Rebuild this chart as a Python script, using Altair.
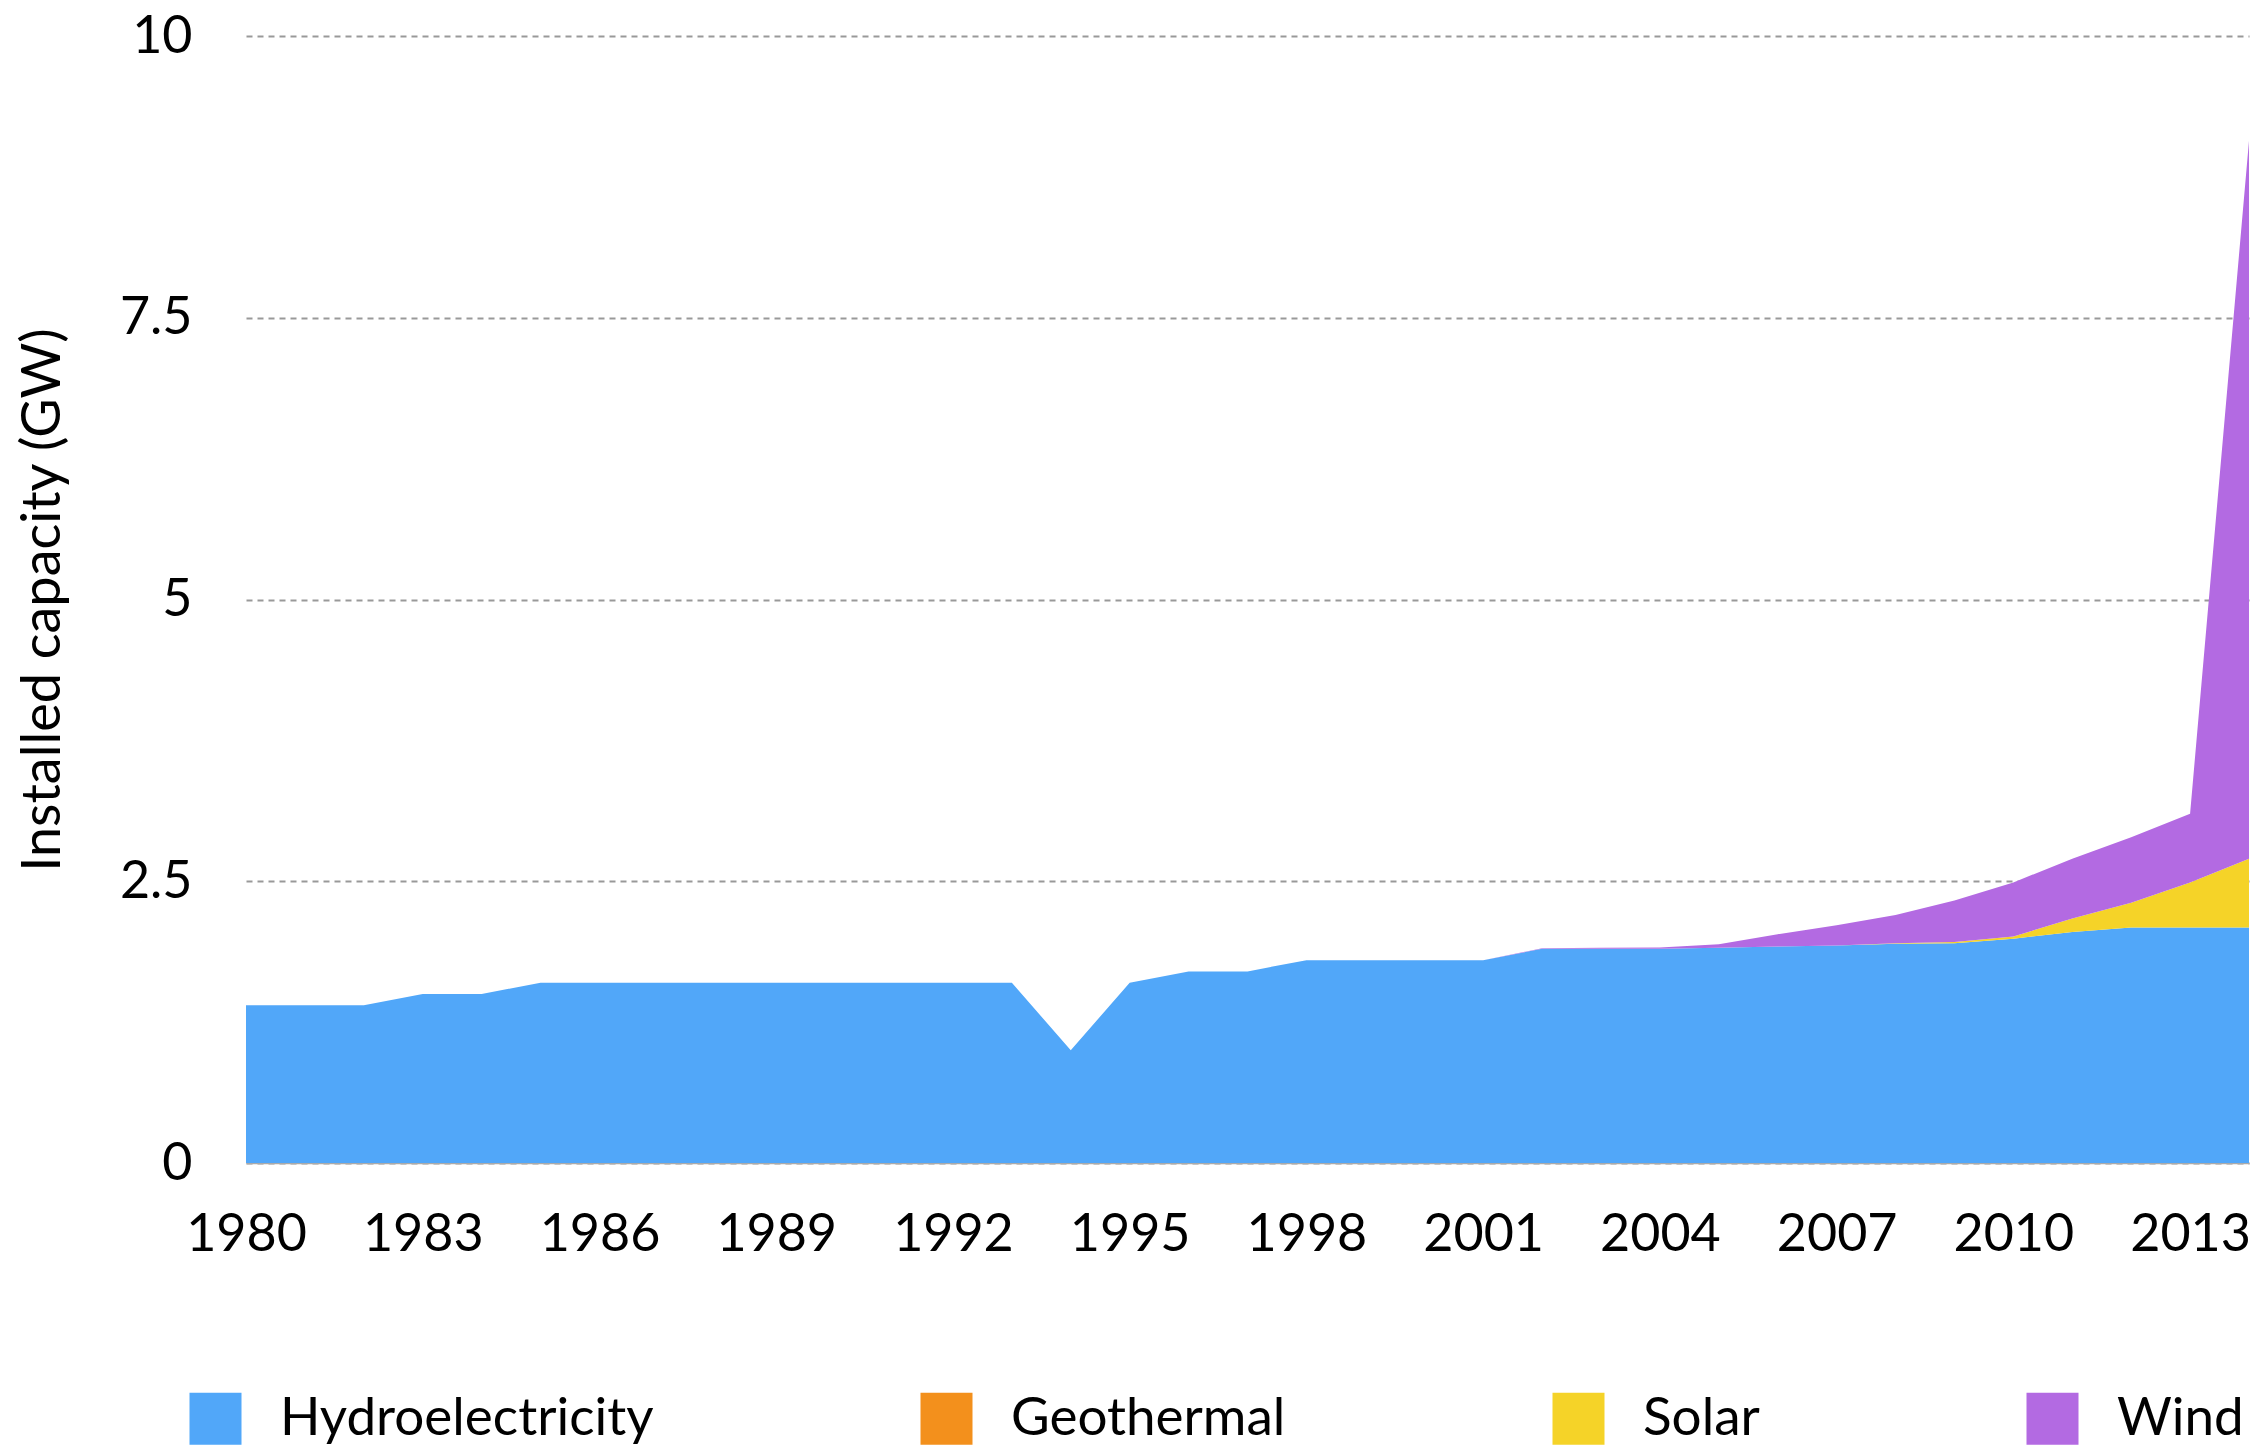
import altair as alt
import pandas as pd

years = list(range(1980, 2015))
hydro = [1.4, 1.4, 1.4, 1.5, 1.5, 1.6, 1.6, 1.6, 1.6, 1.6,
         1.6, 1.6, 1.6, 1.6, 1.0, 1.6, 1.7, 1.7, 1.8, 1.8,
         1.8, 1.8, 1.9, 1.9, 1.9, 1.91, 1.92, 1.93, 1.945, 1.95,
         1.99, 2.05, 2.09, 2.09, 2.09]
geothermal = [0.0] * 35
solar = [0.0] * 28 + [0.005, 0.01, 0.02, 0.12, 0.22, 0.40, 0.61]
wind = [0.0] * 22 + [0.005, 0.01, 0.012, 0.03, 0.11, 0.18, 0.25, 0.37,
                     0.48, 0.53, 0.58, 0.61, 6.37]

sources = ["Hydroelectricity", "Geothermal", "Solar", "Wind"]
colors = ["#51A7F9", "#F3901C", "#F5D328", "#B36AE2"]
series = [hydro, geothermal, solar, wind]
y_ticks = [0, 2.5, 5, 7.5, 10]
x_ticks = list(range(1980, 2014, 3))

rows = []
for i, (name, vals) in enumerate(zip(sources, series)):
    for y, v in zip(years, vals):
        rows.append({"year": y, "source": name, "value": v, "ord": i})
df = pd.DataFrame(rows)

FONT = "Lato"

chart = alt.Chart(df).mark_area(opacity=1).encode(
    x=alt.X("year:Q",
            scale=alt.Scale(domain=[1980, 2014], nice=False, zero=False),
            axis=alt.Axis(values=x_ticks, format="d",
                          title=None, grid=False, ticks=False,
                          labelOverlap=False, labelFlush=False,
                          labelPadding=46, labelFontSize=52,
                          labelColor="#000", labelFont=FONT,
                          domainColor="#aaaaaa", domainWidth=1.5)),
    y=alt.Y("value:Q", stack="zero",
            scale=alt.Scale(domain=[0, 10], nice=False),
            axis=alt.Axis(values=y_ticks, labelExpr="toString(datum.value)",
                          title="Installed capacity (GW)",
                          titleFontSize=54, titleFont=FONT,
                          titleFontWeight="normal", titleColor="#000",
                          titleX=-176,
                          ticks=False, domain=False, labelPadding=54,
                          labelOverlap=False, labelFlush=False,
                          labelFontSize=52, labelColor="#000", labelFont=FONT,
                          gridColor="#999999", gridDash=[6, 5], gridWidth=2)),
    color=alt.Color("source:N",
                    scale=alt.Scale(domain=sources, range=colors),
                    legend=alt.Legend(title=None, orient="none",
                                      direction="horizontal", columns=4,
                                      legendX=-57, legendY=1356,
                                      symbolType="square", symbolSize=2704,
                                      symbolStrokeWidth=0, symbolOpacity=1,
                                      labelFontSize=53, labelFont=FONT,
                                      labelColor="#000", labelOffset=38,
                                      columnPadding=266, labelLimit=1000)),
    order=alt.Order("ord:Q", sort="ascending"),
).properties(
    width=2003, height=1127,
    autosize=alt.AutoSizeParams(type="none"),
    padding={"left": 238, "top": 28, "right": 9, "bottom": 290},
).configure_view(stroke=None)

chart.save("out.html", embed_options={"renderer": "svg", "actions": False})
